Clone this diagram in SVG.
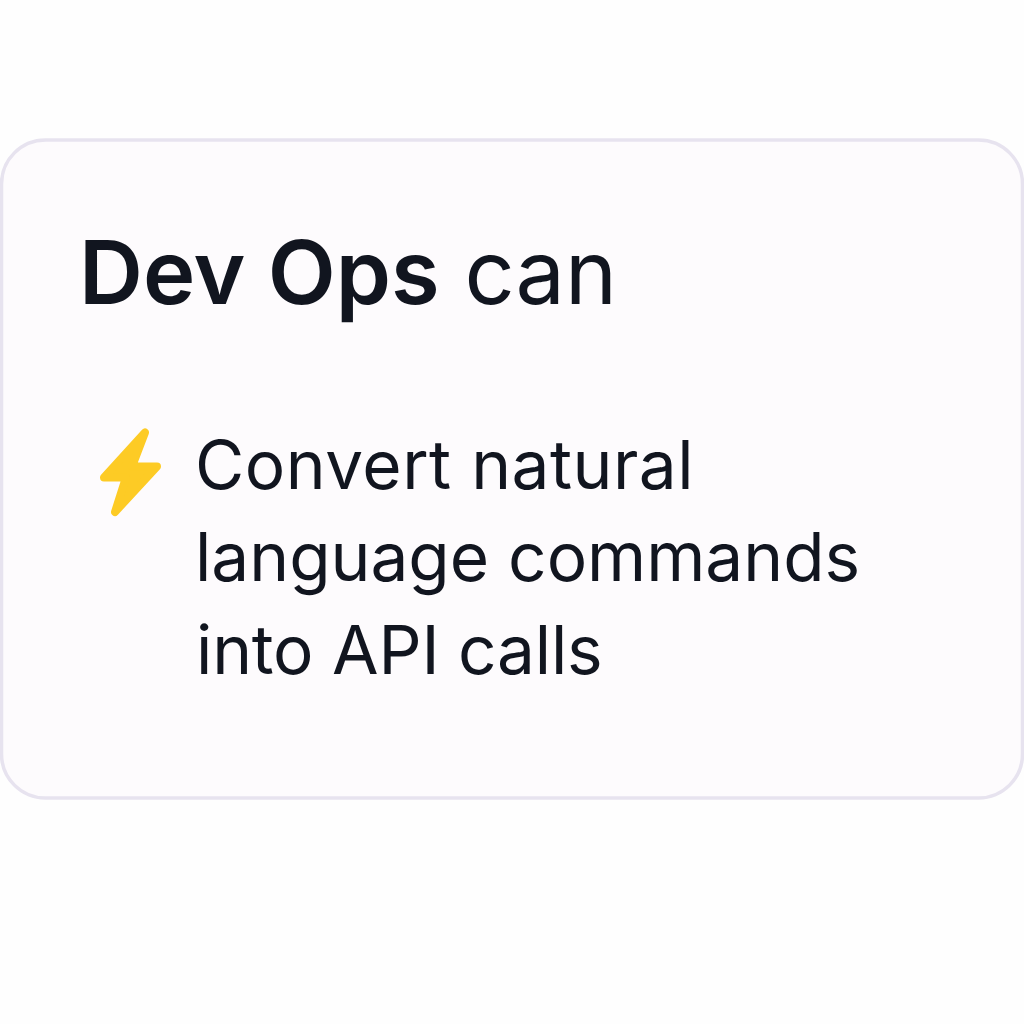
<svg xmlns="http://www.w3.org/2000/svg" width="1024" height="1024" viewBox="0 0 1024 1024">
<style>
text{font-family:Inter,"Noto Sans",sans-serif;fill:#11151f}
.b{font-size:67.500px}
</style>
<rect width="1024" height="1024" fill="#fefefe"/>
<g id="card">
<rect x="1.500" y="140" width="1021" height="658" rx="44" fill="#fdfbfd" stroke="#e7e3ef" stroke-width="3.500"/>
</g>
<g id="title"><text x="79" y="304" font-size="88"><tspan font-weight="600" font-size="88.500">Dev Ops</tspan> can</text></g>
<g id="bolt"><path d="M145 432.500 L132 466.500 L157 466.500 L115 512 L126 477.500 L104 477.500 Z" fill="#fdcb25" stroke="#fdcb25" stroke-width="8" stroke-linejoin="round"/></g>
<g id="body">
<text x="195" y="489" class="b" letter-spacing="0.500">Convert natural</text>
<text x="195" y="581" class="b">language commands</text>
<text x="196" y="674" class="b" letter-spacing="-0.200">into API calls</text>
</g>
</svg>
